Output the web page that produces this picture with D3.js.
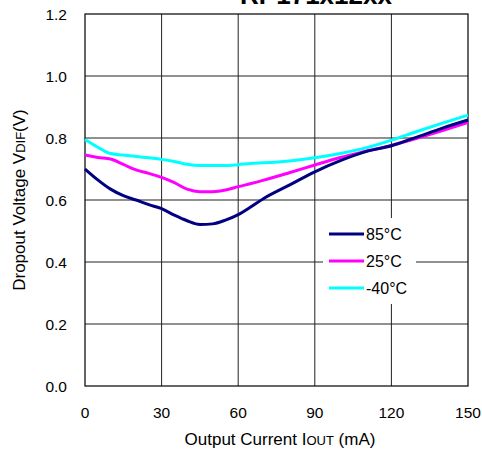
<!DOCTYPE html>
<html>
<head>
<meta charset="utf-8">
<script src="https://cdn.jsdelivr.net/npm/d3@7"></script>
<style>
  body { margin: 0; background: #fff; }
  svg { display: block; font-family: "Liberation Sans", Arial, sans-serif; }
</style>
</head>
<body>
<svg id="chart" width="482" height="452"></svg>
<script>
// output current (mA)
var current = [0, 5, 10, 15, 20, 25, 30, 35, 40, 45, 50, 55, 60, 65, 70, 80, 90, 100, 110, 120, 130, 140, 150];
// dropout voltage (V)
var v85 = [0.700, 0.665, 0.635, 0.614, 0.600, 0.585, 0.572, 0.551, 0.533, 0.521, 0.523, 0.535, 0.553, 0.578, 0.605, 0.648, 0.691, 0.727, 0.756, 0.775, 0.803, 0.832, 0.858];
var v25 = [0.745, 0.737, 0.732, 0.715, 0.697, 0.686, 0.673, 0.656, 0.635, 0.627, 0.627, 0.632, 0.643, 0.653, 0.664, 0.688, 0.713, 0.737, 0.757, 0.776, 0.799, 0.824, 0.850];
var vm40 = [0.795, 0.770, 0.750, 0.745, 0.740, 0.736, 0.731, 0.724, 0.715, 0.711, 0.711, 0.711, 0.714, 0.718, 0.720, 0.726, 0.736, 0.750, 0.768, 0.793, 0.821, 0.848, 0.874];
var seriesNames = ['85°C', '25°C', '-40°C'];
var seriesColors = ['#000080', '#ff00ff', '#00ffff'];
var xTicks = [0, 30, 60, 90, 120, 150];
var yTicks = [0, 0.2, 0.4, 0.6, 0.8, 1.0, 1.2];

(function () {
	var svg = d3.select('#chart');
	var pLeft = 85, pTop = 14, pRight = 468, pBottom = 386;

	var x = d3.scaleLinear().domain([0, 150]).range([pLeft, pRight]);
	var y = d3.scaleLinear().domain([0, 1.2]).range([pBottom, pTop]);

	// title (cut off at top)
	svg.append('text')
		.attr('x', 316).attr('y', 4)
		.attr('text-anchor', 'middle')
		.style('font-size', '26px').style('font-weight', 'bold')
		.text('RP171x12xx');

	// grid
	svg.append('g').selectAll('line')
		.data(xTicks.slice(1, -1))
		.enter().append('line')
		.attr('x1', d => x(d)).attr('x2', d => x(d))
		.attr('y1', pTop).attr('y2', pBottom)
		.attr('stroke', '#222').attr('stroke-width', 1);
	svg.append('g').selectAll('line')
		.data(yTicks.slice(1, -1))
		.enter().append('line')
		.attr('y1', d => y(d)).attr('y2', d => y(d))
		.attr('x1', pLeft).attr('x2', pRight)
		.attr('stroke', '#222').attr('stroke-width', 1);

	// legend background hides grid
	svg.append('rect')
		.attr('x', 323).attr('y', 218).attr('width', 93).attr('height', 86)
		.attr('fill', '#fff');

	// border
	svg.append('rect')
		.attr('x', pLeft).attr('y', pTop)
		.attr('width', pRight - pLeft).attr('height', pBottom - pTop)
		.attr('fill', 'none').attr('stroke', '#000').attr('stroke-width', 1.2);

	// tick labels
	svg.append('g').selectAll('text')
		.data(xTicks)
		.enter().append('text')
		.attr('x', d => x(d)).attr('y', 418)
		.attr('text-anchor', 'middle')
		.style('font-size', '15.5px')
		.text(d => d);
	svg.append('g').selectAll('text')
		.data(yTicks)
		.enter().append('text')
		.attr('x', 67).attr('y', d => y(d) + 5.5)
		.attr('text-anchor', 'end')
		.style('font-size', '15.5px')
		.text(d => d.toFixed(1));

	// axis titles
	var xt = svg.append('text')
		.attr('x', 280).attr('y', 445)
		.attr('text-anchor', 'middle')
		.style('font-size', '17px');
	xt.append('tspan').text('Output Current I');
	xt.append('tspan').style('font-size', '13px').text('OUT');
	xt.append('tspan').text(' (mA)');

	var yt = svg.append('text')
		.attr('transform', 'translate(25,200) rotate(-90)')
		.attr('text-anchor', 'middle')
		.style('font-size', '17px');
	yt.append('tspan').text('Dropout Voltage V');
	yt.append('tspan').style('font-size', '13px').text('DIF');
	yt.append('tspan').text('(V)');

	// curves
	var line = d3.line()
		.x((d, i) => x(current[i]))
		.y(d => y(d))
		.curve(d3.curveMonotoneX);

	var allSeries = [vm40, v25, v85];
	var allColors = [seriesColors[2], seriesColors[1], seriesColors[0]];
	svg.append('g').selectAll('path')
		.data(allSeries)
		.enter().append('path')
		.attr('d', d => line(d))
		.attr('fill', 'none')
		.attr('stroke', (d, i) => allColors[i])
		.attr('stroke-width', 3)
		.attr('stroke-linejoin', 'round');

	// legend
	var legend = svg.append('g').selectAll('g')
		.data(seriesNames)
		.enter().append('g')
		.attr('transform', (d, i) => 'translate(329,' + (234 + i * 27) + ')');
	legend.append('line')
		.attr('x1', 0).attr('x2', 35)
		.attr('stroke', (d, i) => seriesColors[i])
		.attr('stroke-width', 3);
	legend.append('text')
		.attr('x', 37).attr('y', 6)
		.style('font-size', '16px')
		.text(d => d);
})();
</script>
</body>
</html>
